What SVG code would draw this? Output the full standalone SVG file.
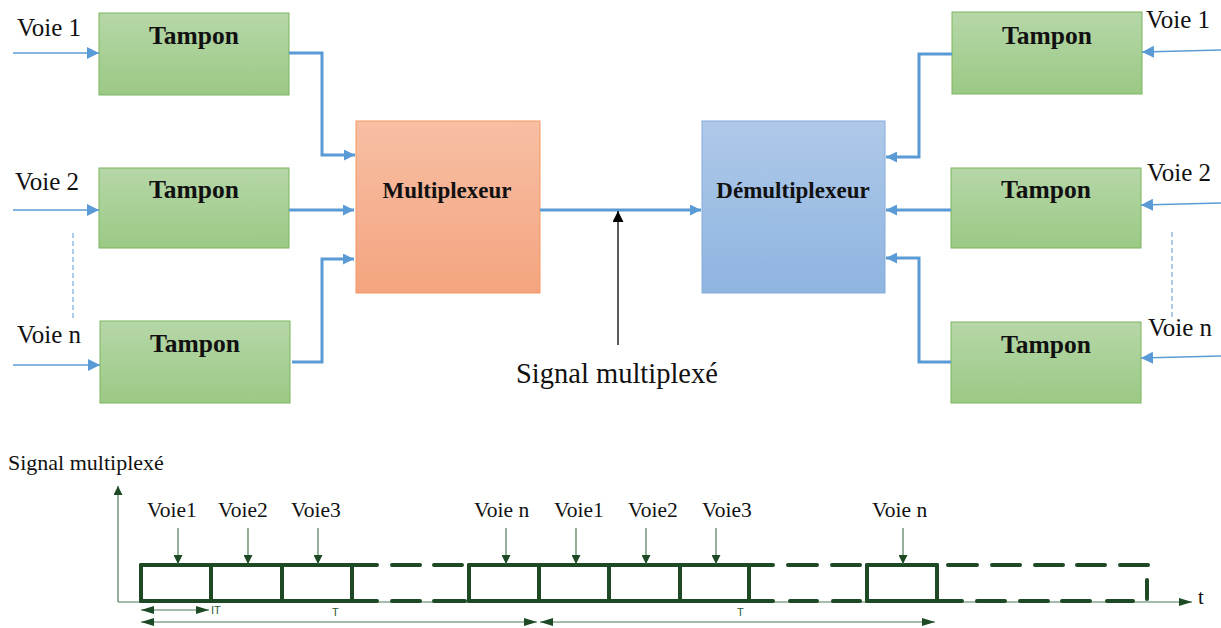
<svg xmlns="http://www.w3.org/2000/svg" width="1221" height="628" viewBox="0 0 1221 628">
  <style>
    .lbl { font-family: "Liberation Serif", "Times New Roman", serif; fill: #111; }
    .big { font-size: 25px; }
    .box-t { font-family: "Liberation Serif", "Times New Roman", serif; font-weight: bold; font-size: 23px; fill: #111; text-anchor: middle; }
    .tampon text { font-size: 25.5px; }
    .tampon rect { fill: url(#gGreen); stroke: #7ab55c; stroke-width: 1; }
    .wire { fill: none; stroke: #5b9bd5; stroke-width: 3; }
    .wire-in { fill: none; stroke: #5b9bd5; stroke-width: 1.5; }
    .dash-v { stroke: #5b9bd5; stroke-width: 1; stroke-dasharray: 5 3; }
    .thick { stroke: #1d4a25; stroke-width: 4; fill: none; }
    .thin { stroke: #4d7a58; stroke-width: 1.2; fill: none; }
    .small { font-family: "Liberation Sans", Arial, sans-serif; font-size: 11px; fill: #2d5a36; }
  </style>
  <defs>
    <linearGradient id="gGreen" x1="0" y1="0" x2="0" y2="1">
      <stop offset="0" stop-color="#b6d7a8"/>
      <stop offset="1" stop-color="#9bc985"/>
    </linearGradient>
    <linearGradient id="gOrange" x1="0" y1="0" x2="0" y2="1">
      <stop offset="0" stop-color="#f7bfa4"/>
      <stop offset="1" stop-color="#f4a47f"/>
    </linearGradient>
    <linearGradient id="gBlue" x1="0" y1="0" x2="0" y2="1">
      <stop offset="0" stop-color="#aec9e9"/>
      <stop offset="1" stop-color="#8fb4e0"/>
    </linearGradient>
    <marker id="aBlue" viewBox="0 0 10 10" refX="10" refY="5" markerWidth="11" markerHeight="11" markerUnits="userSpaceOnUse" orient="auto">
      <path d="M0,0 L10,5 L0,10 z" fill="#5b9bd5"/>
    </marker>
    <marker id="aBlueIn" viewBox="0 0 10 10" refX="10" refY="5" markerWidth="12" markerHeight="12" markerUnits="userSpaceOnUse" orient="auto">
      <path d="M0,0 L10,5 L0,10 z" fill="#5b9bd5"/>
    </marker>
    <marker id="aBlack" viewBox="0 0 10 10" refX="10" refY="5" markerWidth="11" markerHeight="11" markerUnits="userSpaceOnUse" orient="auto">
      <path d="M0,0 L10,5 L0,10 z" fill="#000"/>
    </marker>
    <marker id="aGreen" viewBox="0 0 10 10" refX="10" refY="5" markerWidth="9" markerHeight="9" markerUnits="userSpaceOnUse" orient="auto">
      <path d="M0,0 L10,5 L0,10 z" fill="#1d4a25"/>
    </marker>
    <marker id="aDim" viewBox="0 0 10 10" refX="10" refY="5" markerWidth="13" markerHeight="8" markerUnits="userSpaceOnUse" orient="auto" preserveAspectRatio="none">
      <path d="M0,0 L10,5 L0,10 z" fill="#1d4a25"/>
    </marker>
    <marker id="aDimStart" viewBox="0 0 10 10" refX="0" refY="5" markerWidth="13" markerHeight="8" markerUnits="userSpaceOnUse" orient="auto" preserveAspectRatio="none">
      <path d="M10,0 L0,5 L10,10 z" fill="#1d4a25"/>
    </marker>
  </defs>

  <rect width="1221" height="628" fill="#fff"/>

  <!-- input channels, left side -->
  <g id="labels-left">
    <text class="lbl big" x="17" y="36">Voie 1</text>
    <text class="lbl big" x="15" y="190">Voie 2</text>
    <text class="lbl big" x="17" y="343">Voie n</text>
  </g>

  <!-- buffers feeding the multiplexer -->
  <g id="tampon-l1" class="tampon">
    <rect x="99" y="13" width="190" height="82"/>
    <text class="box-t" x="194" y="44">Tampon</text>
  </g>
  <g id="tampon-l2" class="tampon">
    <rect x="99" y="168" width="190" height="80"/>
    <text class="box-t" x="194" y="198">Tampon</text>
  </g>
  <g id="tampon-l3" class="tampon">
    <rect x="100" y="321" width="190" height="82"/>
    <text class="box-t" x="195" y="352">Tampon</text>
  </g>

  <g id="multiplexeur">
    <rect x="356" y="121" width="184" height="172" fill="url(#gOrange)" stroke="#f39a62" stroke-width="1"/>
    <text class="box-t" x="447" y="198">Multiplexeur</text>
  </g>

  <g id="demultiplexeur">
    <rect x="702" y="121" width="183" height="172" fill="url(#gBlue)" stroke="#85acd9" stroke-width="1"/>
    <text class="box-t" x="793" y="198">Démultiplexeur</text>
  </g>

  <!-- buffers on the receiving side -->
  <g id="tampon-r1" class="tampon">
    <rect x="952" y="12" width="190" height="82"/>
    <text class="box-t" x="1047" y="44">Tampon</text>
  </g>
  <g id="tampon-r2" class="tampon">
    <rect x="951" y="168" width="190" height="80"/>
    <text class="box-t" x="1046" y="198">Tampon</text>
  </g>
  <g id="tampon-r3" class="tampon">
    <rect x="951" y="322" width="190" height="81"/>
    <text class="box-t" x="1046" y="353">Tampon</text>
  </g>

  <g id="labels-right">
    <text class="lbl big" x="1146" y="28">Voie 1</text>
    <text class="lbl big" x="1147" y="181">Voie 2</text>
    <text class="lbl big" x="1148" y="336">Voie n</text>
  </g>

  <g id="signal-label">
    <text class="lbl" x="516" y="383" font-size="28.5">Signal multiplexé</text>
  </g>

  <!-- connectors -->
  <g id="connectors">
    <line class="wire-in" x1="13" y1="53" x2="99" y2="53" marker-end="url(#aBlueIn)"/>
    <line class="wire-in" x1="13" y1="210" x2="99" y2="210" marker-end="url(#aBlueIn)"/>
    <line class="wire-in" x1="13" y1="365" x2="100" y2="365" marker-end="url(#aBlueIn)"/>
    <line class="dash-v" x1="73" y1="233" x2="73" y2="320"/>

    <polyline class="wire" points="289,53 322,53 322,155 355,155" marker-end="url(#aBlue)"/>
    <line class="wire" x1="289" y1="210" x2="354" y2="210" marker-end="url(#aBlue)"/>
    <polyline class="wire" points="292,362 322,362 322,259 354,259" marker-end="url(#aBlue)"/>

    <line class="wire" x1="540" y1="210" x2="701" y2="210" marker-end="url(#aBlue)"/>
    <line x1="618" y1="345" x2="618" y2="211" stroke="#000" stroke-width="1.3" marker-end="url(#aBlack)"/>

    <polyline class="wire" points="952,54 919,54 919,157 886,157" marker-end="url(#aBlue)"/>
    <line class="wire" x1="951" y1="210" x2="886" y2="210" marker-end="url(#aBlue)"/>
    <polyline class="wire" points="951,362 919,362 919,258 886,258" marker-end="url(#aBlue)"/>

    <line class="wire-in" x1="1221" y1="50" x2="1142" y2="52" marker-end="url(#aBlueIn)"/>
    <line class="wire-in" x1="1221" y1="203" x2="1141" y2="205" marker-end="url(#aBlueIn)"/>
    <line class="wire-in" x1="1221" y1="356" x2="1141" y2="358" marker-end="url(#aBlueIn)"/>
    <line class="dash-v" x1="1172" y1="232" x2="1172" y2="318"/>
  </g>

  <!-- time-division chronogram -->
  <g id="chronogram">
    <text class="lbl" x="8" y="470" font-size="22">Signal multiplexé</text>

    <line class="thin" x1="118" y1="602" x2="118" y2="486" marker-end="url(#aGreen)"/>
    <line class="thin" x1="118" y1="602" x2="1192" y2="602" marker-end="url(#aDim)"/>
    <text class="lbl" x="1198" y="604" font-size="21">t</text>

    <g class="thick" stroke-linecap="round">
      <!-- top edge -->
      <path d="M141,565 H377 M392,565 H420 M434,565 H462 M469,565 H773 M788,565 H817 M832,565 H860 M867,565 H937
               M948,565 H977 M992,565 H1020 M1035,565 H1063 M1077,565 H1105 M1120,565 H1148"/>
      <!-- bottom edge -->
      <path d="M141,601 H377 M392,601 H420 M434,601 H465 M469,601 H773 M790,601 H817 M833,601 H860 M867,601 H962
               M977,601 H1005 M1020,601 H1048 M1062,601 H1090 M1107,601 H1133 M1147,580 V599"/>
      <!-- slot separators -->
      <path d="M141,565 V601 M211,565 V601 M282,565 V601 M352,565 V601 M469,565 V601 M539,565 V601 M609,565 V601
               M680,565 V601 M749,565 V601 M867,565 V601 M937,565 V601"/>
    </g>

    <!-- channel pointers -->
    <g class="thin">
      <line x1="178" y1="528" x2="178" y2="564" marker-end="url(#aGreen)"/>
      <line x1="248" y1="528" x2="248" y2="564" marker-end="url(#aGreen)"/>
      <line x1="318" y1="528" x2="318" y2="564" marker-end="url(#aGreen)"/>
      <line x1="506" y1="528" x2="506" y2="564" marker-end="url(#aGreen)"/>
      <line x1="576" y1="528" x2="576" y2="564" marker-end="url(#aGreen)"/>
      <line x1="646" y1="528" x2="646" y2="564" marker-end="url(#aGreen)"/>
      <line x1="716" y1="528" x2="716" y2="564" marker-end="url(#aGreen)"/>
      <line x1="903" y1="528" x2="903" y2="564" marker-end="url(#aGreen)"/>
    </g>
    <g class="lbl" font-size="21.5">
      <text x="147" y="517">Voie1</text>
      <text x="218" y="517">Voie2</text>
      <text x="291" y="517">Voie3</text>
      <text x="474" y="517">Voie n</text>
      <text x="554" y="517">Voie1</text>
      <text x="628" y="517">Voie2</text>
      <text x="702" y="517">Voie3</text>
      <text x="872" y="517">Voie n</text>
    </g>

    <!-- slot and frame durations -->
    <g class="thin">
      <line x1="141" y1="610" x2="209" y2="610" marker-start="url(#aDimStart)" marker-end="url(#aDim)"/>
      <line x1="141" y1="622" x2="537" y2="622" marker-start="url(#aDimStart)" marker-end="url(#aDim)"/>
      <line x1="540" y1="622" x2="935" y2="622" marker-start="url(#aDimStart)" marker-end="url(#aDim)"/>
    </g>
    <text class="small" x="211" y="614">IT</text>
    <text class="small" x="332" y="616">T</text>
    <text class="small" x="737" y="616">T</text>
  </g>
</svg>
